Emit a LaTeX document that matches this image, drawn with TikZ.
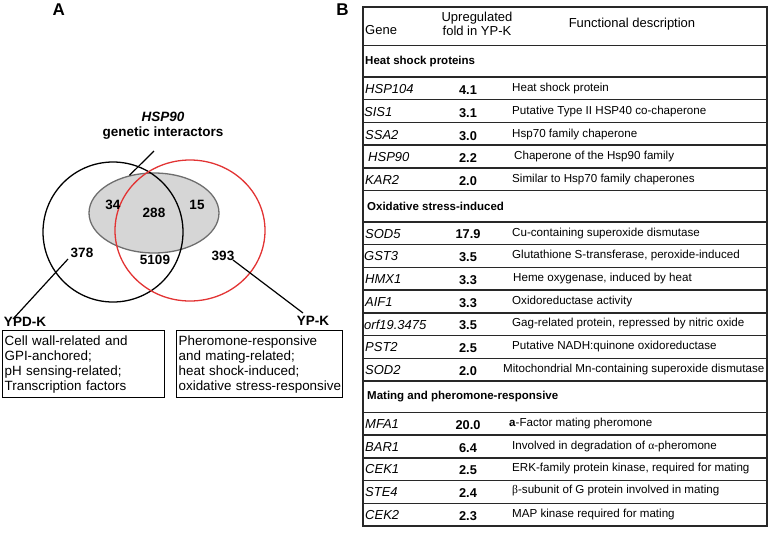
\documentclass[tikz,border=0pt]{standalone}
\usepackage{fontspec}
\setmainfont{Liberation Sans}
\newfontfamily\grk{Liberation Serif}
\usetikzlibrary{shapes.geometric,calc}
\definecolor{vred}{RGB}{226,52,52}
\definecolor{vgrayfill}{RGB}{214,214,214}
\definecolor{vgrayline}{RGB}{110,110,110}
\definecolor{tline}{RGB}{40,40,40}
\begin{document}
\begin{tikzpicture}[x=1pt,y=-1pt,
  panel/.style={font=\fontsize{17}{19}\selectfont\bfseries, inner sep=0pt},
  num/.style={font=\fontsize{13.5}{15}\selectfont\bfseries, inner sep=0pt},
  setlab/.style={font=\fontsize{13.5}{15}\selectfont\bfseries, inner sep=0pt},
  catbox/.style={draw, line width=1.3pt, anchor=north west, align=left, inner xsep=2pt, inner ysep=0pt,
    minimum height=67pt, font=\fontsize{13.4}{15}\selectfont},
  leader/.style={line width=1.2pt},
  hdr/.style={font=\fontsize{13}{14.5}\selectfont, inner sep=0pt},
  gene/.style={anchor=west, font=\fontsize{13}{15}\selectfont\itshape, inner sep=0pt},
  fold/.style={font=\fontsize{12.8}{15}\selectfont\bfseries, inner sep=0pt},
  desc/.style={anchor=west, font=\fontsize{11.6}{14}\selectfont, inner sep=0pt},
  sect/.style={anchor=west, font=\fontsize{11.5}{14}\selectfont\bfseries, inner sep=0pt},
  trule/.style={line width=1.4pt, draw=tline},
]
\useasboundingbox (0,0) rectangle (770,536);

% ---------------- Panel A ----------------
\node[panel] (pA) at (58.7,9.5) {A};
\node[panel] (pB) at (342.5,9.5) {B};

\fill[vgrayfill] (154,213) ellipse [x radius=65pt, y radius=40pt];
\node[draw=vgrayline, line width=1.3pt, ellipse, minimum width=130pt, minimum height=80pt, inner sep=0pt] (gi) at (154,213) {};
\draw[line width=1.3pt] (113,232) circle [radius=70pt];
\draw[vred, line width=1.3pt] (190,230.5) ellipse [x radius=75pt, y radius=70.5pt];

\node[num] (n34) at (113,205) {34};
\node[num] (n288) at (154,213) {288};
\node[num] (n15) at (197,205) {15};
\node[num] (n378) at (82,253) {378};
\node[num] (n5109) at (155,260) {5109};
\node[num] (n393) at (223,256) {393};

\node[setlab, align=center] (hsp) at (163,126) {\itshape HSP90\\genetic interactors};
\coordinate (hspend) at (154,151);
\draw[leader] (hspend) -- (gi.123);

\node[setlab] (ypdk) at (25,322) {YPD-K};
\node[setlab] (ypk) at (313,321) {YP-K};
\coordinate (l378a) at (68,259);
\coordinate (l378b) at (13,319);
\coordinate (l393a) at (233,260);
\coordinate (l393b) at (303,313);
\draw[leader] (l378a) -- (l378b);
\draw[leader] (l393a) -- (l393b);

\node[catbox, text width=158pt] (boxL) at (2,330) {Cell wall-related and\\GPI-anchored;\\pH sensing-related;\\Transcription factors};
\node[catbox, text width=162pt] (boxR) at (176,330) {Pheromone-responsive\\and mating-related;\\heat shock-induced;\\\mbox{oxidative stress-responsive}};

% ---------------- Panel B ----------------
\draw[trule] (363,7) rectangle (767,525.9);
\foreach \yy in {45.5,77,99.7,122.4,145.1,167.8,190.5,222,244.7,267.4,290.1,312.8,335.5,358.2,380.9,412.4,435.1,457.8,480.5,503.2}
  \draw[trule] (363,\yy) -- (767,\yy);

\node[hdr, anchor=west] (hgene) at (365,30) {Gene};
\node[hdr, align=center] (hfold) at (477,24) {Upregulated\\fold in YP-K};
\node[hdr] (hdesc) at (632,24) {Functional description};

\node[sect] (s1) at (365,61.5) {Heat shock proteins};
\node[sect] (s2) at (367,206.5) {Oxidative stress-induced};
\node[sect] (s3) at (367,397) {Mating and pheromone-responsive};

% Heat shock rows
\node[gene] (g1) at (365,89.5) {HSP104};   \node[fold] (f1) at (468,90.5) {4.1};  \node[desc] (d1) at (512,88.5) {Heat shock protein};
\node[gene] (g2) at (364,112) {SIS1};      \node[fold] (f2) at (468,113) {3.1};   \node[desc] (d2) at (512,111) {Putative Type II HSP40 co-chaperone};
\node[gene] (g3) at (365,135) {SSA2};      \node[fold] (f3) at (468,136) {3.0};   \node[desc] (d3) at (512,134) {Hsp70 family chaperone};
\node[gene] (g4) at (368,157.5) {HSP90};   \node[fold] (f4) at (468,158.5) {2.2}; \node[desc] (d4) at (514,156.5) {Chaperone of the Hsp90 family};
\node[gene] (g5) at (365,180) {KAR2};      \node[fold] (f5) at (468,181) {2.0};   \node[desc] (d5) at (512,179) {Similar to Hsp70 family chaperones};
% Oxidative rows
\node[gene] (g6) at (365,234) {SOD5};      \node[fold] (f6) at (468,234.5) {17.9}; \node[desc] (d6) at (512,233) {Cu-containing superoxide dismutase};
\node[gene] (g7) at (364,256.5) {GST3};    \node[fold] (f7) at (468,257.5) {3.5};  \node[desc] (d7) at (512,255.5) {Glutathione S-transferase, peroxide-induced};
\node[gene] (g8) at (365,279) {HMX1};      \node[fold] (f8) at (468,280) {3.3};    \node[desc] (d8) at (513,278) {Heme oxygenase, induced by heat};
\node[gene] (g9) at (365,302) {AIF1};      \node[fold] (f9) at (468,303) {3.3};    \node[desc] (d9) at (512,301) {Oxidoreductase activity};
\node[gene] (g10) at (364,324.5) {orf19.3475}; \node[fold] (f10) at (468,325.5) {3.5}; \node[desc] (d10) at (512,323.5) {Gag-related protein, repressed by nitric oxide};
\node[gene] (g11) at (365,347) {PST2};     \node[fold] (f11) at (468,348) {2.5};   \node[desc] (d11) at (512,346) {Putative NADH:quinone oxidoreductase};
\node[gene] (g12) at (365,370) {SOD2};     \node[fold] (f12) at (468,371) {2.0};   \node[desc] (d12) at (503,369) {Mitochondrial Mn-containing superoxide dismutase};
% Mating rows
\node[gene] (g13) at (365,424.5) {MFA1};   \node[fold] (f13) at (468,425) {20.0};  \node[desc] (d13) at (509,423.5) {\textbf{a}-Factor mating pheromone};
\node[gene] (g14) at (365,447) {BAR1};     \node[fold] (f14) at (468,448) {6.4};   \node[desc] (d14) at (512,446) {Involved in degradation of {\grk α}-pheromone};
\node[gene] (g15) at (365,469.5) {CEK1};   \node[fold] (f15) at (468,470.5) {2.5}; \node[desc] (d15) at (512,468.5) {ERK-family protein kinase, required for mating};
\node[gene] (g16) at (365,492) {STE4};     \node[fold] (f16) at (468,493) {2.4};   \node[desc] (d16) at (512,491) {{\grk β}-subunit of G protein involved in mating};
\node[gene] (g17) at (365,515) {CEK2};     \node[fold] (f17) at (468,516) {2.3};   \node[desc] (d17) at (512,514) {MAP kinase required for mating};
\end{tikzpicture}
\end{document}
